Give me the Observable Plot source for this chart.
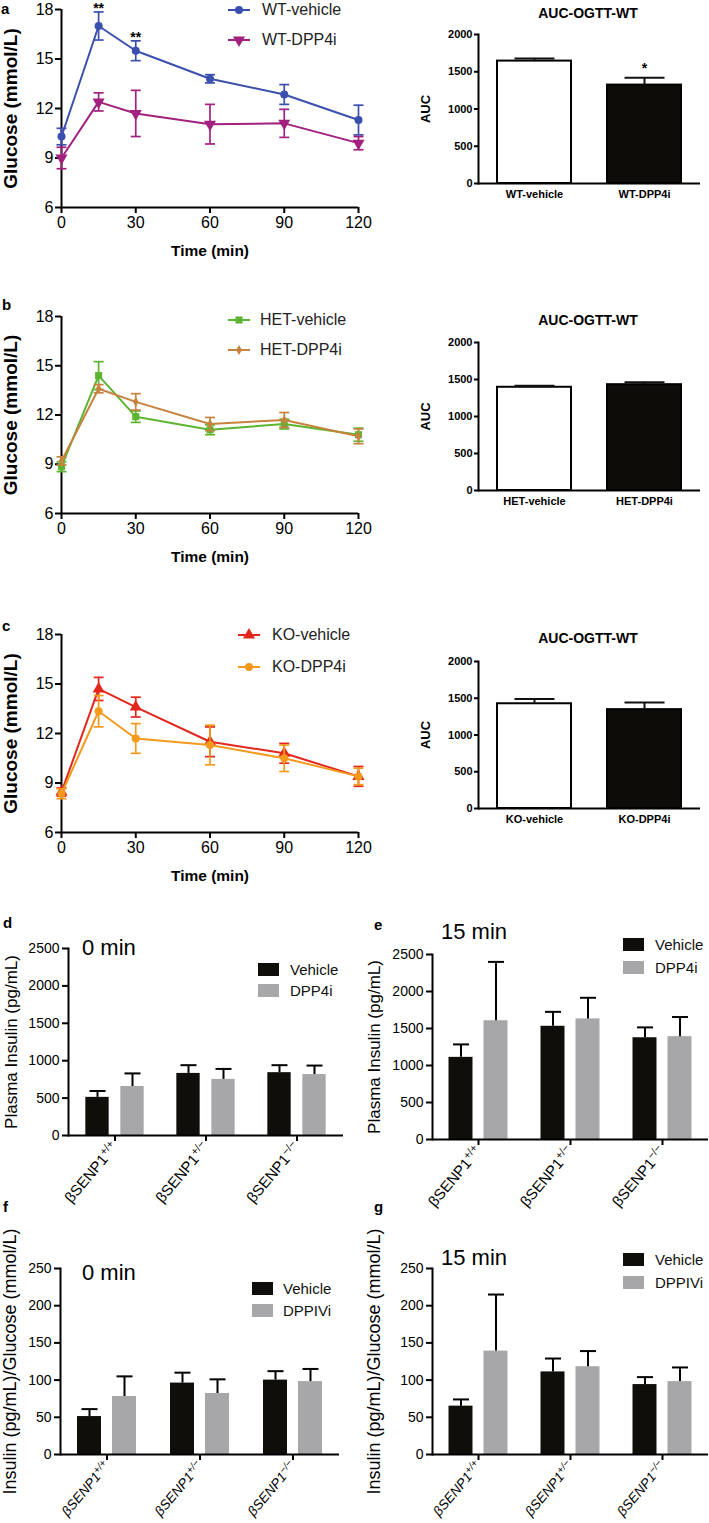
<!DOCTYPE html>
<html><head><meta charset="utf-8">
<script src="https://cdn.jsdelivr.net/npm/d3@7"></script>
<script src="https://cdn.jsdelivr.net/npm/@observablehq/plot@0.6"></script>
<style>
html,body{margin:0;padding:0;background:#fff;}
#fig{position:relative;width:709px;height:1523px;overflow:hidden;font-family:"Liberation Sans",Arial,sans-serif;color:#000;}
#fig svg{overflow:visible;}
.lc g[aria-label="y-axis label"] text{font-weight:bold;font-size:19px;}
.lc g[aria-label="x-axis label"] text{font-weight:bold;font-size:15.5px;}
.auc g[aria-label="y-axis label"] text{font-weight:bold;font-size:13px;}
.ins g[aria-label="y-axis label"] text{font-size:17px;}
.ratio g[aria-label="y-axis label"] text{font-size:18px;}
</style></head>
<body><div id="fig"></div>
<script>
// ---------- data ----------
const times = [0, 15, 30, 60, 90, 120];
const timeTicks = [0, 30, 60, 90, 120];
const glucoseTicks = [6, 9, 12, 15, 18];
const aucTicks = [0, 500, 1000, 1500, 2000];
const insulinTicks = [0, 500, 1000, 1500, 2000, 2500];
const ratioTicks = [0, 50, 100, 150, 200, 250];

const wtVehicleMean = [10.3, 17.0, 15.5, 13.8, 12.85, 11.3];
const wtVehicleSem  = [0.5, 0.85, 0.6, 0.25, 0.6, 0.9];
const wtDpp4iMean   = [9.0, 12.4, 11.7, 11.05, 11.1, 9.9];
const wtDpp4iSem    = [0.65, 0.55, 1.4, 1.2, 0.85, 0.4];
const wtStars       = ["", "**", "**", "", "", ""];

const hetVehicleMean = [8.85, 14.4, 11.9, 11.1, 11.45, 10.8];
const hetVehicleSem  = [0.3, 0.85, 0.35, 0.3, 0.3, 0.4];
const hetDpp4iMean   = [9.2, 13.6, 12.8, 11.45, 11.7, 10.7];
const hetDpp4iSem    = [0.25, 0.25, 0.5, 0.4, 0.45, 0.45];

const koVehicleMean = [8.45, 14.7, 13.6, 11.5, 10.8, 9.4];
const koVehicleSem  = [0.25, 0.7, 0.6, 0.9, 0.6, 0.6];
const koDpp4iMean   = [8.35, 13.35, 11.7, 11.3, 10.5, 9.4];
const koDpp4iSem    = [0.3, 0.95, 0.9, 1.2, 0.8, 0.5];

const aucWtGroups  = ["WT-vehicle", "WT-DPP4i"];
const aucWtMean    = [1643, 1321];
const aucWtSem     = [36, 99];
const aucWtStars   = ["", "*"];
const aucHetGroups = ["HET-vehicle", "HET-DPP4i"];
const aucHetMean   = [1395, 1430];
const aucHetSem    = [22, 32];
const aucKoGroups  = ["KO-vehicle", "KO-DPP4i"];
const aucKoMean    = [1425, 1345];
const aucKoSem     = [65, 97];

const genotypes = ["βSENP1+/+", "βSENP1+/−", "βSENP1−/−"];
const ins0Vehicle     = [510, 830, 840];
const ins0VehicleSem  = [85, 110, 100];
const ins0Dpp4i       = [655, 750, 815];
const ins0Dpp4iSem    = [175, 140, 120];
const ins15Vehicle    = [1110, 1530, 1375];
const ins15VehicleSem = [175, 195, 140];
const ins15Dpp4i      = [1605, 1630, 1390];
const ins15Dpp4iSem   = [795, 285, 265];
const ratio0Vehicle     = [51, 96, 100];
const ratio0VehicleSem  = [10, 14, 12];
const ratio0Dppivi      = [78, 82, 98];
const ratio0DppiviSem   = [27, 19, 17];
const ratio15Vehicle    = [65, 111, 94];
const ratio15VehicleSem = [9, 18, 10];
const ratio15Dppivi     = [139, 118, 98];
const ratio15DppiviSem  = [76, 21, 19];

// ---------- helpers ----------
const FONT = '"Liberation Sans", Arial, sans-serif';
const root = document.getElementById("fig");
const plain = d => String(d);
const capSymbol = {draw(ctx, size) { const w = Math.sqrt(size / Math.PI); ctx.moveTo(-w, 0); ctx.lineTo(w, 0); }};
const d3Symbols = {circle: d3.symbolCircle, square: d3.symbolSquare, diamond: d3.symbolDiamond, triangle: d3.symbolTriangle};

function put(node, x, y) {
  node.style.position = "absolute"; node.style.left = x + "px"; node.style.top = y + "px";
  root.appendChild(node); return node;
}
function txt(text, x, y, css, anchor = "left") {
  const d = document.createElement("div");
  d.textContent = text;
  const tr = anchor === "center" ? "translate(-50%,-50%)" : "translate(0,-50%)";
  d.style.cssText = `position:absolute;left:${x}px;top:${y}px;white-space:nowrap;line-height:1;transform:${tr};font-family:${FONT};${css}`;
  root.appendChild(d); return d;
}
function margins(box, fr) {
  return {width: box.w, height: box.h, marginLeft: fr.l - box.x, marginRight: box.x + box.w - fr.r,
          marginTop: fr.t - box.y, marginBottom: box.y + box.h - fr.b};
}
const baseStyle = {fontFamily: FONT, color: "black", background: "transparent", overflow: "visible"};

// ---------- line charts ----------
function lineChart(series, box, fr) {
  const marks = [];
  for (const s of series) {
    const rows = times.map((t, i) => ({t, m: s.mean[i], lo: s.mean[i] - s.sem[i], hi: s.mean[i] + s.sem[i], star: s.stars ? s.stars[i] : ""}));
    marks.push(
      Plot.ruleX(rows, {x: "t", y1: "lo", y2: "hi", stroke: s.color, strokeWidth: 1.7}),
      Plot.dot(rows, {x: "t", y: "lo", symbol: capSymbol, r: 5, stroke: s.color, strokeWidth: 1.7, fill: "none"}),
      Plot.dot(rows, {x: "t", y: "hi", symbol: capSymbol, r: 5, stroke: s.color, strokeWidth: 1.7, fill: "none"}),
      Plot.line(rows, {x: "t", y: "m", stroke: s.color, strokeWidth: 2}),
      Plot.dot(rows, {x: "t", y: "m", symbol: s.symbol, r: s.r, fill: s.color, stroke: "none", rotate: s.rotate || 0})
    );
    if (s.stars) marks.push(Plot.text(rows.filter(d => d.star), {x: "t", y: "hi", text: "star", dy: -3, fontSize: 14, fontWeight: "bold"}));
  }
  const svg = Plot.plot({
    ...margins(box, fr), style: baseStyle,
    x: {domain: [0, 120]}, y: {domain: [6, 18]},
    marks: [
      Plot.ruleY([6], {strokeWidth: 2}), Plot.ruleX([0], {strokeWidth: 2}),
      Plot.axisX({ticks: timeTicks, tickSize: 6, tickPadding: 3, fontSize: 16, strokeWidth: 2, label: "Time (min)", labelAnchor: "center", labelArrow: "none", labelOffset: 48}),
      Plot.axisY({ticks: glucoseTicks, tickSize: 6, tickPadding: 2, fontSize: 16, strokeWidth: 2, label: "Glucose (mmol/L)", labelAnchor: "center", labelArrow: "none", labelOffset: 58}),
      ...marks
    ]
  });
  svg.classList.add("lc");
  put(svg, box.x, box.y);
}
function lineLegend(series, x0, textX, ys) {
  series.forEach((s, i) => {
    const d = document.createElement("div");
    d.style.cssText = `position:absolute;left:${x0}px;top:${ys[i] - 11}px;height:22px;display:flex;align-items:center;font:16px ${FONT};white-space:nowrap;`;
    const svg = d3.create("svg").attr("width", textX - x0).attr("height", 22);
    svg.append("line").attr("x1", 0).attr("x2", 22).attr("y1", 11).attr("y2", 11).attr("stroke", s.color).attr("stroke-width", 2);
    svg.append("path").attr("d", d3.symbol(d3Symbols[s.symbol], Math.PI * s.r * s.r)())
      .attr("transform", `translate(11,11) rotate(${s.rotate || 0})`).attr("fill", s.color);
    d.appendChild(svg.node());
    const sp = document.createElement("span"); sp.textContent = s.name; sp.style.color = "#222";
    d.appendChild(sp);
    root.appendChild(d);
  });
}

// ---------- AUC charts ----------
function aucChart(groups, mean, sem, stars, box, fr) {
  const rows = groups.map((g, i) => ({g, m: mean[i], hi: mean[i] + sem[i], star: stars ? stars[i] : ""}));
  const svg = Plot.plot({
    ...margins(box, fr), style: baseStyle,
    x: {domain: groups, paddingInner: 0.33, paddingOuter: 0.17},
    y: {domain: [0, 2000]},
    color: {domain: groups, range: ["#ffffff", "#0d0c09"]},
    marks: [
      Plot.barY(rows, {x: "g", y: "m", fill: "g", stroke: "#000", strokeWidth: 2}),
      Plot.ruleX(rows, {x: "g", y1: "m", y2: "hi", stroke: "#111", strokeWidth: 2}),
      Plot.dot(rows, {x: "g", y: "hi", symbol: capSymbol, r: 20, stroke: "#111", strokeWidth: 2, fill: "none"}),
      Plot.text(rows.filter(d => d.star), {x: "g", y: "hi", text: "star", dy: -9, fontSize: 14, fontWeight: "bold"}),
      Plot.ruleY([0], {strokeWidth: 2}),
      Plot.frame({anchor: "left", strokeWidth: 2}),
      Plot.axisX({tickSize: 0, tickPadding: 7, fontSize: 11, fontWeight: "bold", label: null}),
      Plot.axisY({ticks: aucTicks, tickFormat: plain, tickSize: 4, tickPadding: 2, fontSize: 11, fontWeight: "bold", strokeWidth: 2, label: "AUC", labelAnchor: "center", labelArrow: "none", labelOffset: 58})
    ]
  });
  svg.classList.add("auc");
  put(svg, box.x, box.y);
}

// ---------- insulin bar charts ----------
const vehColor = "#0f0e0b", dppColor = "#a7a6a9";
function insulinChart(o) {
  const bw = (o.fr.r - o.fr.l) / 3, c = bw / 2, barW = 24, off = 17.5;
  const vRows = genotypes.map((g, i) => ({g, m: o.veh[i], hi: o.veh[i] + o.vehSem[i]}));
  const dRows = genotypes.map((g, i) => ({g, m: o.dpp[i], hi: o.dpp[i] + o.dppSem[i]}));
  const svg = Plot.plot({
    ...margins(o.box, o.fr), style: baseStyle,
    x: {domain: genotypes, padding: 0},
    y: {domain: [0, o.ticks[o.ticks.length - 1]]},
    marks: [
      Plot.barY(vRows, {x: "g", y: "m", fill: vehColor, insetLeft: c - off - barW / 2, insetRight: c + off - barW / 2}),
      Plot.barY(dRows, {x: "g", y: "m", fill: dppColor, insetLeft: c + off - barW / 2, insetRight: c - off - barW / 2}),
      Plot.ruleX(vRows, {x: "g", y1: "m", y2: "hi", dx: -off, stroke: "#000", strokeWidth: 2}),
      Plot.dot(vRows, {x: "g", y: "hi", dx: -off, symbol: capSymbol, r: 8, stroke: "#000", strokeWidth: 2, fill: "none"}),
      Plot.ruleX(dRows, {x: "g", y1: "m", y2: "hi", dx: off, stroke: "#000", strokeWidth: 2}),
      Plot.dot(dRows, {x: "g", y: "hi", dx: off, symbol: capSymbol, r: 8, stroke: "#000", strokeWidth: 2, fill: "none"}),
      Plot.ruleY([0], {strokeWidth: 2}),
      Plot.frame({anchor: "left", strokeWidth: 2}),
      Plot.axisX({tickSize: 6, tickPadding: 3, tickRotate: -50, fontSize: o.tickFont, strokeWidth: 2, label: null}),
      Plot.axisY({ticks: o.ticks, tickFormat: plain, tickSize: 6, tickPadding: 3, fontSize: 14, strokeWidth: 2, label: o.yLabel, labelAnchor: "center", labelArrow: "none", labelOffset: o.labelOffset})
    ]
  });
  svg.classList.add("ins");
  if (o.italic) svg.classList.add("ratio");
  const ns = "http://www.w3.org/2000/svg";
  svg.querySelectorAll('g[aria-label="x-axis tick label"] text').forEach(t => {
    const s = t.textContent, base = "βSENP1";
    if (!s.startsWith(base)) return;
    t.textContent = "";
    const a = document.createElementNS(ns, "tspan"); a.textContent = base;
    const b = document.createElementNS(ns, "tspan"); b.textContent = s.slice(base.length);
    b.setAttribute("dy", "-0.5em"); b.setAttribute("font-size", "72%");
    t.append(a, b);
    if (o.italic) t.setAttribute("font-style", "italic");
  });
  put(svg, o.box.x, o.box.y);
}
function barLegend(names, x0, textX, ys) {
  names.forEach((n, i) => {
    const sw = document.createElement("div");
    sw.style.cssText = `position:absolute;left:${x0}px;top:${ys[i] - 6.5}px;width:21px;height:13px;background:${i === 0 ? vehColor : dppColor};`;
    root.appendChild(sw);
    txt(n, textX, ys[i], "font-size:15px;color:#111;");
  });
}

// ---------- build ----------
const wtSeries = [
  {name: "WT-vehicle", mean: wtVehicleMean, sem: wtVehicleSem, color: "#3b4fae", symbol: "circle", r: 4, stars: wtStars},
  {name: "WT-DPP4i", mean: wtDpp4iMean, sem: wtDpp4iSem, color: "#a2207e", symbol: "triangle", r: 4.5, rotate: 180}
];
const hetSeries = [
  {name: "HET-vehicle", mean: hetVehicleMean, sem: hetVehicleSem, color: "#5cb430", symbol: "square", r: 4},
  {name: "HET-DPP4i", mean: hetDpp4iMean, sem: hetDpp4iSem, color: "#c8823f", symbol: "diamond", r: 3}
];
const koSeries = [
  {name: "KO-vehicle", mean: koVehicleMean, sem: koVehicleSem, color: "#e3261c", symbol: "triangle", r: 4.5},
  {name: "KO-DPP4i", mean: koDpp4iMean, sem: koDpp4iSem, color: "#f39a1d", symbol: "circle", r: 4}
];

lineChart(wtSeries, {x: 0, y: 0, w: 372, h: 262}, {l: 61, t: 9, r: 358, b: 207});
lineChart(hetSeries, {x: 0, y: 290, w: 372, h: 272}, {l: 61, t: 316, r: 358, b: 513});
lineChart(koSeries, {x: 0, y: 605, w: 372, h: 280}, {l: 61, t: 634, r: 358, b: 832});
lineLegend(wtSeries, 228, 262, [10, 40]);
lineLegend(hetSeries, 228, 260, [320, 350]);
lineLegend(koSeries, 238, 272, [635, 667]);

aucChart(aucWtGroups, aucWtMean, aucWtSem, aucWtStars, {x: 380, y: 20, w: 329, h: 200}, {l: 478, t: 34, r: 700, b: 183});
aucChart(aucHetGroups, aucHetMean, aucHetSem, null, {x: 380, y: 330, w: 329, h: 190}, {l: 478, t: 342, r: 700, b: 490});
aucChart(aucKoGroups, aucKoMean, aucKoSem, null, {x: 380, y: 650, w: 329, h: 185}, {l: 478, t: 661, r: 700, b: 808});
["AUC-OGTT-WT", "AUC-OGTT-WT", "AUC-OGTT-WT"].forEach((t, i) => txt(t, 588, [13, 320, 638][i], "font-size:14px;font-weight:bold;", "center"));

insulinChart({veh: ins0Vehicle, vehSem: ins0VehicleSem, dpp: ins0Dpp4i, dppSem: ins0Dpp4iSem, ticks: insulinTicks, tickFont: 15,
  yLabel: "Plasma Insulin (pg/mL)", labelOffset: 64, box: {x: 0, y: 900, w: 355, h: 300}, fr: {l: 68, t: 948, r: 343, b: 1135}});
insulinChart({veh: ins15Vehicle, vehSem: ins15VehicleSem, dpp: ins15Dpp4i, dppSem: ins15Dpp4iSem, ticks: insulinTicks, tickFont: 15,
  yLabel: "Plasma Insulin (pg/mL)", labelOffset: 65, box: {x: 355, y: 900, w: 354, h: 300}, fr: {l: 432, t: 954, r: 708, b: 1139}});
insulinChart({veh: ratio0Vehicle, vehSem: ratio0VehicleSem, dpp: ratio0Dppivi, dppSem: ratio0DppiviSem, ticks: ratioTicks, italic: true, tickFont: 13.5,
  yLabel: "Insulin (pg/mL)/Glucose (mmol/L)", labelOffset: 57, box: {x: 0, y: 1220, w: 355, h: 303}, fr: {l: 60, t: 1268, r: 339, b: 1454}});
insulinChart({veh: ratio15Vehicle, vehSem: ratio15VehicleSem, dpp: ratio15Dppivi, dppSem: ratio15DppiviSem, ticks: ratioTicks, italic: true, tickFont: 13.5,
  yLabel: "Insulin (pg/mL)/Glucose (mmol/L)", labelOffset: 65, box: {x: 355, y: 1220, w: 354, h: 303}, fr: {l: 432, t: 1268, r: 708, b: 1454}});

barLegend(["Vehicle", "DPP4i"], 258, 290, [969, 990]);
barLegend(["Vehicle", "DPP4i"], 623, 655, [944, 967]);
barLegend(["Vehicle", "DPPIVi"], 252, 283, [1288, 1310]);
barLegend(["Vehicle", "DPPIVi"], 623, 655, [1259, 1282]);

txt("0 min", 82, 948, "font-size:22px;");
txt("15 min", 441, 932, "font-size:22px;");
txt("0 min", 82, 1273, "font-size:22px;");
txt("15 min", 441, 1258, "font-size:22px;");

[["a", 1, 8], ["b", 2, 304], ["c", 2, 625], ["d", 3, 922], ["e", 374, 924], ["f", 3, 1206], ["g", 374, 1206]]
  .forEach(([l, x, y]) => txt(l, x, y, "font-size:15px;font-weight:bold;"));
</script></body></html>
